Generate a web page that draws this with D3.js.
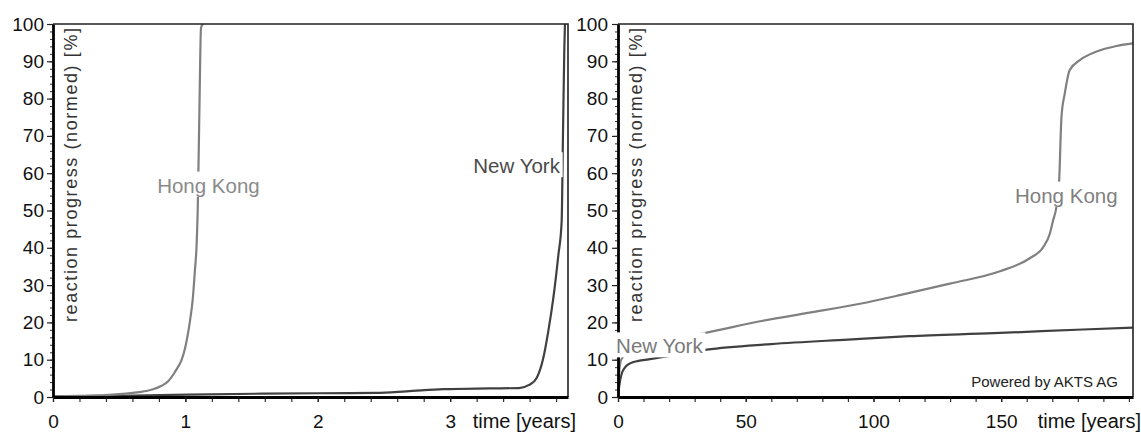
<!DOCTYPE html>
<html>
<head>
<meta charset="utf-8">
<script src="https://cdn.jsdelivr.net/npm/d3@7"></script>
<style>
  html, body { margin: 0; padding: 0; background: #fff; }
  svg { display: block; }
</style>
</head>
<body>
<script>
// Reaction progress (normed) [%] over time for two storage climates.

// Short time scale, in years
const hkYearsT = [0, 0.2, 0.4, 0.55, 0.65, 0.75, 0.82, 0.87, 0.91, 0.94, 0.97, 1.0, 1.035, 1.055, 1.072, 1.085, 1.093, 1.105, 1.118, 1.133];
const hkYearsV = [0.2, 0.3, 0.5, 0.9, 1.3, 2.0, 3.0, 4.2, 6.1, 7.8, 9.8, 13.5, 20.5, 26, 34, 41, 50, 75, 99, 100];
const nyYearsT = [0, 0.6, 1.58, 2.0, 2.44, 2.67, 2.95, 3.3, 3.52, 3.60, 3.653, 3.703, 3.741, 3.779, 3.817, 3.842, 3.852, 3.862, 3.867];
const nyYearsV = [0.2, 0.4, 0.9, 1.0, 1.1, 1.5, 2.1, 2.3, 2.4, 3.3, 5.1, 10.4, 17.6, 26.5, 38, 47, 70, 93, 100];

// Long time scale, in years
const hkCenturyT = [0, 0.2, 0.5, 1, 2, 3.5, 6, 12, 20, 33.4, 55.6, 75, 94.7, 110.3, 129.9, 149.5, 161.2, 166.4, 169, 170.3, 171.6, 172.7, 173.6, 174.9, 176.8, 180.8, 187.3, 195.1, 201.6];
const hkCenturyV = [0, 3, 7, 9.5, 10.8, 11.8, 12.8, 14.3, 15.6, 17.1, 20.3, 22.6, 25.0, 27.3, 30.4, 33.7, 37.2, 40.1, 43.7, 47.3, 50.9, 58.1, 75.1, 81.4, 87.6, 90.3, 92.6, 94.1, 94.8];
const nyCenturyT = [0, 0.2, 0.5, 0.8, 1.4, 2.7, 4.7, 8, 12, 20, 34.7, 60, 90, 114, 147, 182, 201.6];
const nyCenturyV = [0, 1.5, 3, 4.3, 6.1, 7.9, 9.0, 9.7, 10.1, 11.0, 12.7, 14.2, 15.4, 16.3, 17.1, 18.1, 18.6];

// Axis ticks
const yTickLabels = [0, 10, 20, 30, 40, 50, 60, 70, 80, 90, 100];
const xTickLabelsYears = [0, 1, 2, 3];
const xTickLabelsCentury = [0, 50, 100, 150];

// Series names
const seriesNames = ["Hong Kong", "New York"];

const W = 1141, H = 432;
const FONT = "'Liberation Sans', Arial, Helvetica, sans-serif";
const HK_COLOR = "#808080";
const NY_COLOR = "#404040";

const svg = d3.select("body").append("svg")
  .attr("width", W).attr("height", H)
  .style("font-family", FONT);

function drawPanel(cfg) {
  const x = d3.scaleLinear().domain([0, cfg.xMax]).range([cfg.left, cfg.right]);
  const y = d3.scaleLinear().domain([0, 100]).range([397, 24]);
  const g = svg.append("g");

  // curves
  cfg.series.forEach(s => {
    const pts = s.t.map((t, i) => [t, s.v[i]]);
    g.append("path")
      .attr("d", d3.line().x(d => x(d[0])).y(d => y(d[1])).curve(d3.curveMonotoneX)(pts))
      .attr("fill", "none")
      .attr("stroke", s.color)
      .attr("stroke-width", 2.2)
      .attr("stroke-linejoin", "round");
  });

  // top and right frame
  g.append("path")
    .attr("d", `M${x(0)},${y(100)}H${x(cfg.xMax)}V${y(0)}`)
    .attr("fill", "none")
    .attr("stroke", "#222")
    .attr("stroke-width", 1.6);

  // y axis: minor then major
  g.append("g")
    .attr("transform", `translate(${x(0)},0)`)
    .call(d3.axisLeft(y).tickValues(d3.range(0, 101, 2)).tickSize(3).tickSizeOuter(0).tickFormat(""))
    .call(a => a.select(".domain").remove())
    .call(a => a.selectAll("line").attr("stroke", "#333").attr("stroke-width", 1));
  g.append("g")
    .attr("transform", `translate(${x(0)},0)`)
    .call(d3.axisLeft(y).tickValues(yTickLabels).tickSize(6).tickSizeOuter(0).tickPadding(cfg.yPad).tickFormat(d3.format("d")))
    .call(a => a.select(".domain").attr("stroke", "#000").attr("stroke-width", 2.8))
    .call(a => a.selectAll("line").attr("stroke", "#222").attr("stroke-width", 1.2))
    .call(a => a.selectAll("text").attr("font-size", 19).attr("font-family", FONT).attr("fill", "#111"));

  // x axis: minor then major
  g.append("g")
    .attr("transform", `translate(0,${y(0)})`)
    .call(d3.axisBottom(x).tickValues(d3.range(0, cfg.xMax + 1e-9, cfg.minorStep)).tickSize(5).tickSizeOuter(0).tickFormat(""))
    .call(a => a.select(".domain").remove())
    .call(a => a.selectAll("line").attr("stroke", "#333").attr("stroke-width", 1.2));
  g.append("g")
    .attr("transform", `translate(0,${y(0)})`)
    .call(d3.axisBottom(x).tickValues(cfg.xTicks).tickSize(5).tickSizeOuter(0).tickPadding(13).tickFormat(d3.format("d")))
    .call(a => a.select(".domain").attr("stroke", "#000").attr("stroke-width", 2.8))
    .call(a => a.selectAll("line").attr("stroke", "#222").attr("stroke-width", 1.2))
    .call(a => a.selectAll("text").attr("font-size", 19).attr("font-family", FONT).attr("fill", "#111"));

  // axis titles
  g.append("text")
    .attr("transform", `translate(${x(0) + 24},322) rotate(-90)`)
    .attr("font-size", 18)
    .attr("fill", "#333")
    .attr("textLength", 294)
    .attr("lengthAdjust", "spacing")
    .text("reaction progress (normed) [%]");
  g.append("text")
    .attr("x", x(cfg.xMax) + 8)
    .attr("y", 428)
    .attr("text-anchor", "end")
    .attr("font-size", 20)
    .attr("fill", "#111")
    .text("time [years]");

  // series labels on white boxes
  cfg.labels.forEach(l => {
    const lg = g.append("g");
    const t = lg.append("text")
      .attr("x", x(l.t))
      .attr("y", y(l.v))
      .attr("text-anchor", "middle")
      .attr("font-size", 20.5)
      .attr("fill", l.color)
      .text(l.name);
    const bb = t.node().getBBox();
    lg.insert("rect", "text")
      .attr("x", bb.x - 2)
      .attr("y", bb.y - 2)
      .attr("width", bb.width + 4)
      .attr("height", bb.height + 2)
      .attr("fill", "#fff");
  });

  if (cfg.credit) {
    g.append("text")
      .attr("x", 1118)
      .attr("y", 387)
      .attr("text-anchor", "end")
      .attr("font-size", 15)
      .attr("fill", "#222")
      .text(cfg.credit);
  }
}

drawPanel({
  left: 53, right: 568, xMax: 3.89, minorStep: 0.2, yPad: 3,
  xTicks: xTickLabelsYears,
  series: [
    { t: nyYearsT, v: nyYearsV, color: NY_COLOR },
    { t: hkYearsT, v: hkYearsV, color: HK_COLOR }
  ],
  labels: [
    { name: seriesNames[0], t: 1.174, v: 54.8, color: "#8a8a8a" },
    { name: seriesNames[1], t: 3.502, v: 60.0, color: "#4a4a4a" }
  ]
});

drawPanel({
  left: 618, right: 1133, xMax: 201.6, minorStep: 10, yPad: 4,
  xTicks: xTickLabelsCentury,
  series: [
    { t: nyCenturyT, v: nyCenturyV, color: NY_COLOR },
    { t: hkCenturyT, v: hkCenturyV, color: HK_COLOR }
  ],
  labels: [
    { name: seriesNames[0], t: 175.5, v: 52.1, color: "#808080" },
    { name: seriesNames[1], t: 16.2, v: 11.7, color: "#7a7a7a" }
  ],
  credit: "Powered by AKTS AG"
});
</script>
</body>
</html>
